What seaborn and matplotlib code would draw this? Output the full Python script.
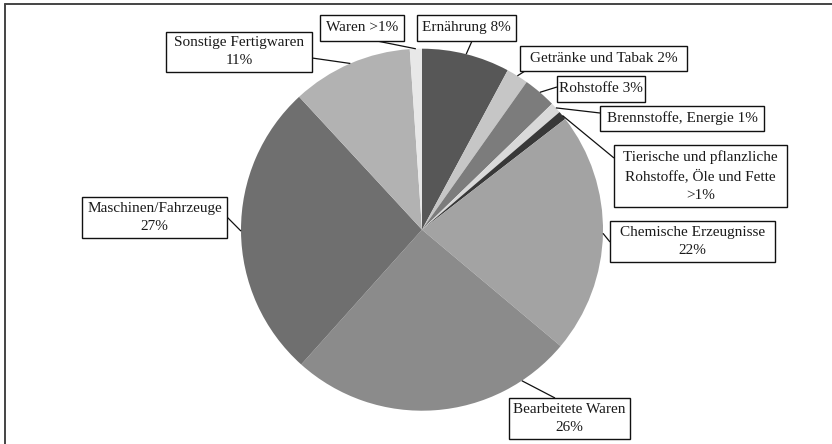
import numpy as np
import matplotlib
matplotlib.use("Agg")
import matplotlib.pyplot as plt
from matplotlib.patches import Rectangle
import seaborn as sns

# Export structure by product group (share in percent)
categories = [
    "Ernährung",
    "Getränke und Tabak",
    "Rohstoffe",
    "Brennstoffe, Energie",
    "Tierische und pflanzliche\nRohstoffe, Öle und Fette",
    "Chemische Erzeugnisse",
    "Bearbeitete Waren",
    "Maschinen/Fahrzeuge",
    "Sonstige Fertigwaren",
    "Waren",
]
shares = [8, 2, 3, 1, 0.8, 22, 26, 27, 11, 1.1]
share_labels = ["8%", "2%", "3%", "1%", ">1%", "22%", "26%", "27%", "11%", ">1%"]
grays = ["#575757", "#c6c6c6", "#7c7c7c", "#d9d9d9", "#383838",
         "#a3a3a3", "#8b8b8b", "#6f6f6f", "#b2b2b2", "#e8e8e8"]

W, H = 832, 444
CX, CY, R = 422, 229.7, 181

# Label boxes in pixel units: (x0, y0, x1, y1), separator, box attach point,
# position of the leader start inside the wedge (0 = first edge clockwise)
boxes = [
    ((417, 15, 516, 41), " ", (472, 41), 0.5),
    ((520, 46, 687, 71), " ", (525, 71), 0.5),
    ((557, 76, 645, 102), " ", (557, 87), 0.5),
    ((600, 106, 764, 131), " ", (600, 113), 0.5),
    ((614, 145, 787, 207), "\n", (614, 158), 0.5),
    ((610, 221, 775, 262), "\n", (610, 242), 0.5),
    ((509, 398, 630, 439), "\n", (555, 398), 0.18),
    ((82, 197, 227, 238), "\n", (227, 217), 0.5),
    ((166, 32, 312, 72), "\n", (312, 58), 0.5),
    ((320, 15, 404, 41), " ", (377, 41), 0.5),
]

sns.set_theme(style="white")
plt.rcParams["font.family"] = ["Liberation Serif", "DejaVu Serif"]

fig = plt.figure(figsize=(W / 100, H / 100), dpi=100)
ax = fig.add_axes([0, 0, 1, 1])


def fy(y):
    return H - y


wedges, _ = ax.pie(
    shares,
    colors=grays,
    startangle=90,
    counterclock=False,
    center=(CX, fy(CY)),
    radius=R,
    wedgeprops=dict(linewidth=0),
    frame=True,
)
ax.set_xlim(0, W)
ax.set_ylim(0, H)
ax.set_aspect("auto")
ax.axis("off")

for wedge, cat, lab, (box, sep, attach, frac) in zip(wedges, categories, share_labels, boxes):
    t1, t2 = wedge.theta1, wedge.theta2
    ang = np.deg2rad(t2 - frac * (t2 - t1))
    ax0 = CX + R * np.cos(ang)
    ay0 = fy(CY) + R * np.sin(ang)
    ax.plot([ax0, attach[0]], [ay0, fy(attach[1])], color="#111111", lw=0.9,
            solid_capstyle="butt", zorder=3)
    x0, y0, x1, y1 = box
    ax.add_patch(Rectangle((x0, fy(y1)), x1 - x0, y1 - y0, facecolor="white",
                           edgecolor="#111111", lw=1.0, zorder=4))
    ax.text((x0 + x1) / 2, fy((y0 + y1) / 2), f"{cat}{sep}{lab}", ha="center",
            va="center", fontsize=11, color="#1a1a1a", linespacing=1.5, zorder=5)

# outer frame (top and left edges)
ax.plot([5, W], [fy(4), fy(4)], color="#444444", lw=1.4, zorder=6)
ax.plot([5, 5], [fy(4), 0], color="#444444", lw=1.4, zorder=6)

fig.savefig("out.png", dpi=100)
